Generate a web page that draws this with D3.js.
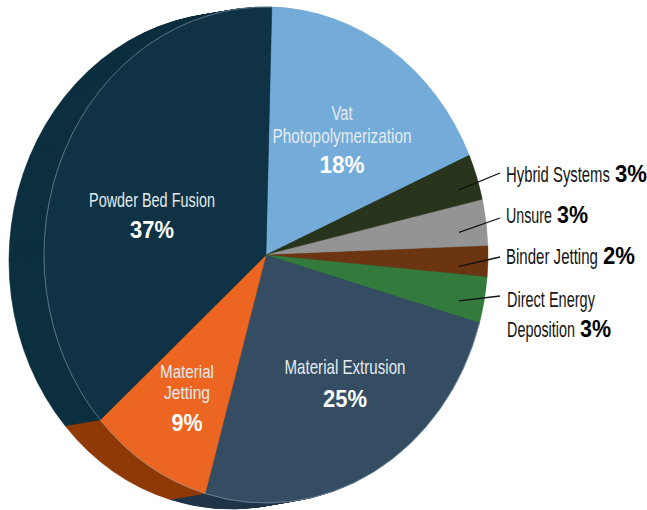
<!DOCTYPE html>
<html>
<head>
<meta charset="utf-8">
<script src="https://cdn.jsdelivr.net/npm/d3@7"></script>
<style>
  html, body { margin: 0; padding: 0; background: #fff; }
  svg { display: block; }
</style>
</head>
<body>
<svg id="chart" width="647" height="510"></svg>
<script>
// ---------- DATA ----------
const categories = ["Vat Photopolymerization", "Hybrid Systems", "Unsure", "Binder Jetting",
                    "Direct Energy Deposition", "Material Extrusion", "Material Jetting", "Powder Bed Fusion"];
const values = [18, 3, 3, 2, 3, 25, 9, 37];
const percentLabels = ["18%", "3%", "3%", "2%", "3%", "25%", "9%", "37%"];
const nameLines = [["Vat", "Photopolymerization"], ["Hybrid Systems"], ["Unsure"], ["Binder Jetting"],
                   ["Direct Energy", "Deposition"], ["Material Extrusion"], ["Material", "Jetting"], ["Powder Bed Fusion"]];
const colors = ["#74acd9", "#28341b", "#949494", "#6b3512", "#337a3d", "#344d63", "#ec6621", "#0f3344"];
const sideColors = ["#4f7fa6", "#1a2312", "#666666", "#4a240c", "#225229", "#22364a", "#8f3a07", "#0d3040"];
const outside = [false, true, true, true, true, false, false, false];

// ---------- LAYOUT ----------
const W = 647, H = 510;
const cx = 266, cy = 255, rx = 222, ry = 248;
const depth = { dx: -35, dy: 6 };
const startAngle = 1.5 * Math.PI / 180;
const nameFont = "'Liberation Sans', Arial, sans-serif";

// inside label layout
const insideLayout = {
  0: { x: 342, y: 120, gap: 23, py: 173, size: 20, w: [21, 139], pw: 45 },
  5: { x: 345, y: 374, gap: 23, py: 407, size: 20, w: [121], pw: 44 },
  6: { x: 187, y: 377.5, gap: 21.5, py: 431, size: 19, w: [54, 46], pw: 31 },
  7: { x: 152, y: 207, gap: 23, py: 238, size: 20, w: [126], pw: 44 }
};
// outside label layout
const outsideLayout = {
  1: { x: 506, y: 182, w: [104], pw: 32, lineEnd: [500, 173] },
  2: { x: 506, y: 223, w: [46], pw: 31, lineEnd: [500, 218] },
  3: { x: 506, y: 264, w: [92], pw: 32, lineEnd: [500, 257] },
  4: { x: 507, y: 307, gap: 30, w: [88, 68], pw: 31, lineEnd: [500, 296] }
};

const svg = d3.select("#chart");

const pie = d3.pie().sort(null).value(d => d)
  .startAngle(startAngle).endAngle(startAngle + 2 * Math.PI);
const arcs = pie(values);
const arc = d3.arc().innerRadius(0).outerRadius(ry);
const sx = rx / ry;

// ---------- SIDE (extrusion) ----------
const steps = 40;
for (let s = steps; s >= 1; s--) {
  const t = s / steps;
  const g = svg.append("g")
    .attr("transform", `translate(${cx + depth.dx * t},${cy + depth.dy * t}) scale(${sx},1)`);
  g.selectAll("path").data(arcs).join("path")
    .attr("d", arc)
    .attr("fill", (d, i) => sideColors[i])
    .attr("stroke", (d, i) => sideColors[i])
    .attr("stroke-width", 0.6);
}

// ---------- FRONT FACE ----------
const front = svg.append("g").attr("transform", `translate(${cx},${cy}) scale(${sx},1)`);
front.selectAll("path.slice").data(arcs).join("path")
  .attr("class", "slice")
  .attr("d", arc)
  .attr("fill", (d, i) => colors[i])
  .attr("stroke", (d, i) => colors[i])
  .attr("stroke-width", 0.5);

// thin highlight line along the visible front rim
const rimArc = d3.arc().innerRadius(ry).outerRadius(ry);
front.selectAll("path.rim").data(arcs.filter((d, i) => i >= 5)).join("path")
  .attr("class", "rim")
  .attr("d", rimArc)
  .attr("fill", "none")
  .attr("stroke", "#8fa8b6")
  .attr("stroke-opacity", 0.5)
  .attr("stroke-width", 0.7);

// ---------- LABELS ----------
// draws text whose width is squeezed to w (condensed look) using a transform
function label(x, y, txt, w, opts) {
  const t = svg.append("text")
    .attr("x", 0).attr("y", 0)
    .attr("text-anchor", opts.anchor || "start")
    .attr("font-family", nameFont)
    .attr("font-size", opts.size)
    .attr("font-weight", opts.weight || "normal")
    .attr("fill", opts.fill)
    .text(txt);
  const w0 = t.node().getComputedTextLength();
  const k = (w && w0) ? w / w0 : 1;
  t.attr("transform", `translate(${x},${y}) scale(${k},1)`);
  return t;
}

arcs.forEach((a, i) => {
  if (!outside[i]) {
    const L = insideLayout[i];
    nameLines[i].forEach((line, k) => {
      label(L.x, L.y + k * L.gap, line, L.w[k],
        { anchor: "middle", size: L.size, fill: "#e4ebef" });
    });
    label(L.x, L.py, percentLabels[i], L.pw,
      { anchor: "middle", size: 23, weight: "bold", fill: "#ffffff" });
  } else {
    const L = outsideLayout[i];
    // leader line from slice to label
    const mid = (a.startAngle + a.endAngle) / 2 + 1.5 * Math.PI / 180;
    const x0 = 459;
    const r = (x0 - cx) / (rx * Math.sin(mid));
    const y0 = cy - ry * r * Math.cos(mid);
    svg.append("line")
      .attr("x1", x0).attr("y1", y0)
      .attr("x2", L.lineEnd[0]).attr("y2", L.lineEnd[1])
      .attr("stroke", "#111").attr("stroke-width", 1.3);

    const lines = nameLines[i];
    let lastX = L.x, lastY = L.y;
    lines.forEach((line, k) => {
      const y = L.y + k * (L.gap || 0);
      label(L.x, y, line, L.w[k], { size: 22, fill: "#151515" });
      lastX = L.x + L.w[k];
      lastY = y;
    });
    label(lastX + 5, lastY, percentLabels[i], L.pw,
      { size: 23, weight: "bold", fill: "#000" });
  }
});
</script>
</body>
</html>
